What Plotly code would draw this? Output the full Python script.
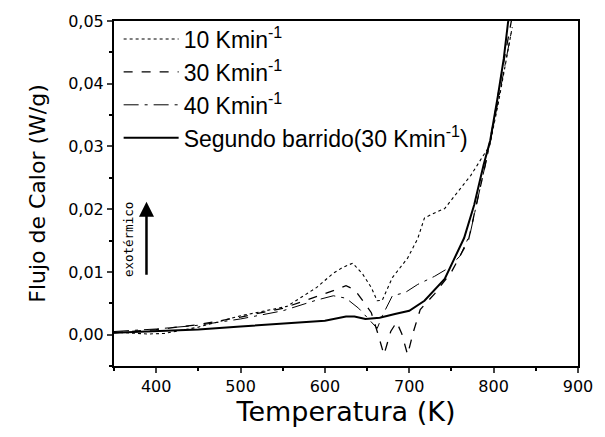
import plotly.graph_objects as go

# Segundo barrido (30 K/min) - solid
T_seg = [350, 400, 450, 500, 550, 600, 625, 635, 648, 665, 683, 700, 718, 742, 765, 777, 788, 796, 805, 812, 817, 820]
Q_seg = [0.0003, 0.0006, 0.0008, 0.0013, 0.0017, 0.0022, 0.0029, 0.0029, 0.0025, 0.0027, 0.0033, 0.0038, 0.0054, 0.0089, 0.0154, 0.0207, 0.027, 0.031, 0.038, 0.044, 0.0497, 0.052]

# 10 K/min - dotted
T_10 = [350, 370, 390, 410, 450, 500, 555, 590, 610, 621, 633, 645, 655, 662, 668, 680, 698, 710, 718, 730, 742, 753, 773, 788, 795, 805, 815, 822]
Q_10 = [0.0004, 0.0003, 0.0001, 0.0002, 0.0012, 0.0030, 0.0045, 0.0075, 0.0098, 0.0107, 0.0114, 0.0096, 0.0075, 0.0054, 0.0055, 0.0091, 0.0122, 0.0153, 0.0186, 0.0194, 0.0201, 0.0220, 0.0254, 0.0286, 0.0300, 0.0365, 0.0440, 0.0490]

# 30 K/min - dashed
T_30 = [350, 400, 450, 500, 550, 590, 610, 625, 635, 645, 655, 662, 670, 678, 685, 691, 698, 705, 713, 730, 750, 770, 790, 800, 810, 821]
Q_30 = [0.0003, 0.0008, 0.0016, 0.0028, 0.0042, 0.0060, 0.0070, 0.0078, 0.0072, 0.0054, 0.0035, 0.0005, -0.0032, 0.0005, 0.0020, 0.0002, -0.0032, 0.0005, 0.0040, 0.0065, 0.0100, 0.0150, 0.0270, 0.0340, 0.0420, 0.0500]

# 40 K/min - dash-dot
T_40 = [350, 400, 450, 500, 550, 590, 610, 625, 640, 655, 662, 668, 680, 695, 710, 730, 745, 760, 772, 785, 795, 805, 815, 822]
Q_40 = [0.0005, 0.0009, 0.0015, 0.0025, 0.0038, 0.0055, 0.0062, 0.0058, 0.0042, 0.0020, 0.0010, 0.0030, 0.0062, 0.0067, 0.0080, 0.0093, 0.0105, 0.0125, 0.0160, 0.0240, 0.0300, 0.0370, 0.0440, 0.0490]

x_ticks = [400, 500, 600, 700, 800, 900]
y_ticks = [0.00, 0.01, 0.02, 0.03, 0.04, 0.05]

WIDE = "DejaVu Sans, sans-serif"

fig = go.Figure()
fig.add_trace(go.Scatter(x=T_10, y=Q_10, mode="lines", name="10 Kmin<sup>-1</sup>",
                         line=dict(color="black", width=1.1, dash="dot")))
fig.add_trace(go.Scatter(x=T_30, y=Q_30, mode="lines", name="30 Kmin<sup>-1</sup>",
                         line=dict(color="black", width=1.3, dash="dash")))
fig.add_trace(go.Scatter(x=T_40, y=Q_40, mode="lines", name="40 Kmin<sup>-1</sup>",
                         line=dict(color="black", width=1.0, dash="longdashdot")))
fig.add_trace(go.Scatter(x=T_seg, y=Q_seg, mode="lines", name="Segundo barrido(30 Kmin<sup>-1</sup>)",
                         line=dict(color="black", width=2)))

fig.add_annotation(x=388.5, y=0.0212, ax=388.5, ay=0.0093, xref="x", yref="y", axref="x", ayref="y",
                   showarrow=True, arrowhead=2, arrowsize=1.2, arrowwidth=2.5, arrowcolor="black", text="")
fig.add_annotation(x=367.5, y=0.0152, xref="x", yref="y", text="exotérmico", showarrow=False,
                   textangle=-90, font=dict(family="DejaVu Sans Mono, monospace", size=12.5, color="black"))

fig.update_layout(
    width=605, height=437,
    margin=dict(l=114, r=18, t=18, b=71),
    paper_bgcolor="white", plot_bgcolor="white",
    separators=",.",
    font=dict(family="Liberation Sans, Arial, sans-serif", color="black"),
    showlegend=True,
    legend=dict(x=0.01, y=1.01, xanchor="left", yanchor="top", bgcolor="rgba(0,0,0,0)",
                font=dict(size=23, color="black"), tracegroupgap=0, itemwidth=55),
    xaxis=dict(range=[350, 900], tickvals=x_ticks, ticks="outside", ticklen=5, tickwidth=1.5,
               showline=True, linewidth=2, linecolor="black", mirror=True, showgrid=False, zeroline=False,
               tickfont=dict(size=16, family=WIDE),
               title=dict(text="Temperatura (K)", font=dict(size=27, family=WIDE), standoff=4),
               minor=dict(dtick=50, ticks="outside", ticklen=3, tickcolor="black")),
    yaxis=dict(range=[-0.005, 0.05], tickvals=y_ticks, tickformat=".2f", ticks="outside", ticklen=5, tickwidth=1.5,
               showline=True, linewidth=2, linecolor="black", mirror=True, showgrid=False, zeroline=False,
               tickfont=dict(size=16, family=WIDE),
               title=dict(text="Flujo de Calor (W/g)", font=dict(size=22, family=WIDE), standoff=16),
               minor=dict(dtick=0.005, ticks="outside", ticklen=3, tickcolor="black")),
)

fig.write_html("out.html", config={"displayModeBar": False},
               post_script="document.body.style.margin='0';")
